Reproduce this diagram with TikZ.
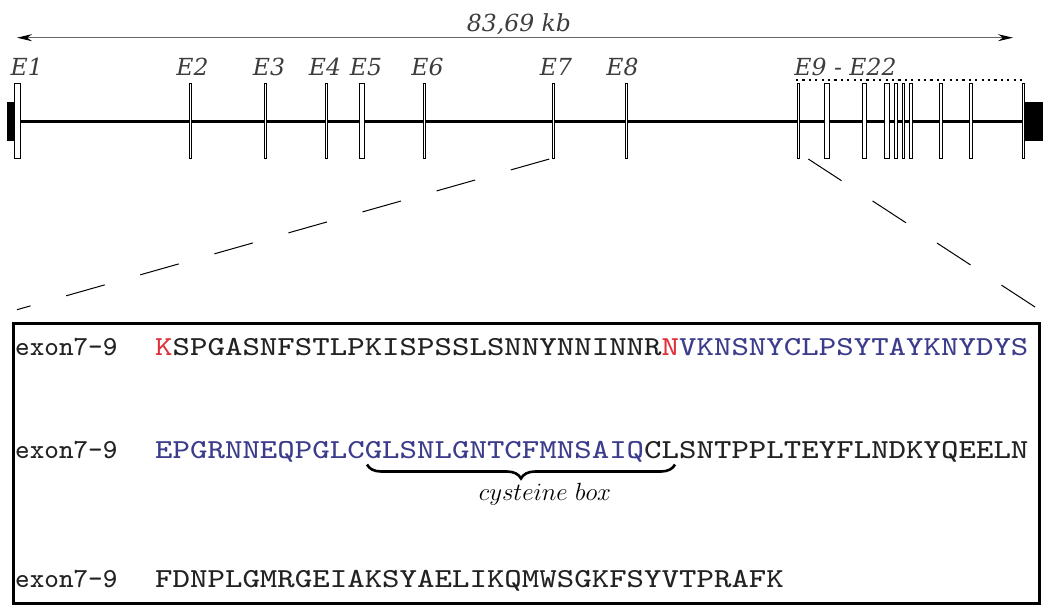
\documentclass[tikz,border=0pt]{standalone}
\usepackage{fontspec}
\usepackage{graphicx}
\usetikzlibrary{arrows.meta,decorations.pathreplacing,calc}
\newfontfamily\labelfont{DejaVu Serif}
\newfontfamily\seqmono{lmmono8-regular.otf}
\definecolor{labelgray}{HTML}{3D3D3D}
\definecolor{rulegray}{HTML}{666666}
\definecolor{seqred}{HTML}{E0303A}
\definecolor{seqblue}{HTML}{3C3C8C}
\definecolor{seqblack}{HTML}{222222}
\newcommand\seqstretch[1]{\scalebox{1.196}[1]{#1}}
\begin{document}
\begin{tikzpicture}[x=1pt,y=-1pt,
  exon/.style={draw=black, fill=white, line width=0.9pt, inner sep=0pt, minimum height=74.8pt},
  utr/.style={fill=black, inner sep=0pt, minimum height=38.7pt},
  exlabel/.style={font=\labelfont\itshape\fontsize{23.5}{28}\selectfont, text=labelgray, anchor=base, inner sep=0pt},
  seqfont/.style={font=\seqmono\fontsize{27.5}{33}\selectfont, text=seqblack, anchor=base west, inner sep=0pt},
  zoomline/.style={draw=black, line width=1pt, dash pattern=on 40pt off 37pt},
]
\useasboundingbox (0,0) rectangle (1049,608);

% length scale
\coordinate (kbL) at (17,37.7);
\coordinate (kbR) at (1013,37.7);
\draw[draw=rulegray, line width=1.4pt, {Stealth[length=15pt,width=7pt,color=black]}-{Stealth[length=15pt,width=7pt,color=black]}]
  (kbL) -- (kbR);
\node[exlabel] (kb) at (519,31) {83,69 kb};

% untranslated ends and the gene backbone
\node[utr, minimum width=7.3pt] (utrL) at (10.35,121.35) {};
\node[utr, minimum width=18pt] (utrR) at (1034,121.35) {};
\draw[line width=3.3pt] (utrL.east) -- (utrR.west);

% exons: name / left edge / right edge
\foreach \n/\l/\r in {e1/14/20.5, e2/188.7/191.6, e3/264.3/267.3, e4/325/328.3,
    e5/358.7/364.7, e6/423.3/426.3, e7/551.7/554.7, e8/625/628.3,
    g1/796.7/800, g2/824.3/830, g3/861.7/867, g4/883.7/889.7,
    g5/894/897.7, g6/901.7/905.3, g7/909/912.7, g8/939/942.7,
    g9/969.3/972.7, g10/1021.7/1024.7}
  \node[exon, minimum width={\r-\l-0.9}] (\n) at ({(\l+\r)/2},121.2) {};

% exon labels
\node[exlabel] (l1) at (26.7,75) {E1};
\node[exlabel] (l2) at (192.5,75) {E2};
\node[exlabel] (l3) at (269,75) {E3};
\node[exlabel] (l4) at (325,75) {E4};
\node[exlabel] (l5) at (366,75) {E5};
\node[exlabel] (l6) at (427.5,75) {E6};
\node[exlabel] (l7) at (556,75) {E7};
\node[exlabel] (l8) at (622.5,75) {E8};
\node[exlabel] (l9) at (845.5,75) {E9 - E22};

% bracket over the 3' exon cluster
\coordinate (dotL) at (796,80.3);
\coordinate (dotR) at (1023,80.3);
\draw[line width=2.2pt, dash pattern=on 2.2pt off 4.2pt] (dotL) -- (dotR);

% sequence panel
\node[draw, line width=3pt, inner sep=0pt, minimum width=1025.5pt,
  minimum height=280.3pt, anchor=north west] (box) at (12,321.7) {};

% zoom-in guides
\draw[zoomline] ([xshift=-4pt]e7.south) -- ([xshift=5pt,yshift=12pt]box.north west);
\draw[zoomline] ([xshift=-5.5pt,yshift=14.7pt]box.north east) -- ([xshift=10pt]g1.south);

% sequence rows
\node[seqfont] (n1) at (15,355.5) {exon7-9};
\node[seqfont] (s1) at (155,355.5) {\seqstretch{\textcolor{seqred}{K}SPGASNFSTLPKISPSSLSNNYNNINNR\textcolor{seqred}{N}\textcolor{seqblue}{VKNSNYCLPSYTAYKNYDYS}}};
\node[seqfont] (n2) at (15,458) {exon7-9};
\node[seqfont] (s2) at (155,458) {\seqstretch{\textcolor{seqblue}{EPGRNNEQPGLCGLSNLGNTCFMNSAIQ}CLSNTPPLTEYFLNDKYQEELN}};
\node[seqfont] (n3) at (15,587) {exon7-9};
\node[seqfont] (s3) at (155,587) {\seqstretch{FDNPLGMRGEIAKSYAELIKQMWSGKFSYVTPRAFK}};

% cysteine box
\coordinate (brL) at (367,464.5);
\coordinate (brR) at (675,464.5);
\draw[decorate, decoration={brace, mirror, amplitude=14pt}, line width=2.6pt] (brL) -- (brR);
\node[anchor=base, inner sep=0pt, font=\fontsize{25}{30}\selectfont] (cys) at (545,500) {$cysteine\ box$};
\end{tikzpicture}
\end{document}
